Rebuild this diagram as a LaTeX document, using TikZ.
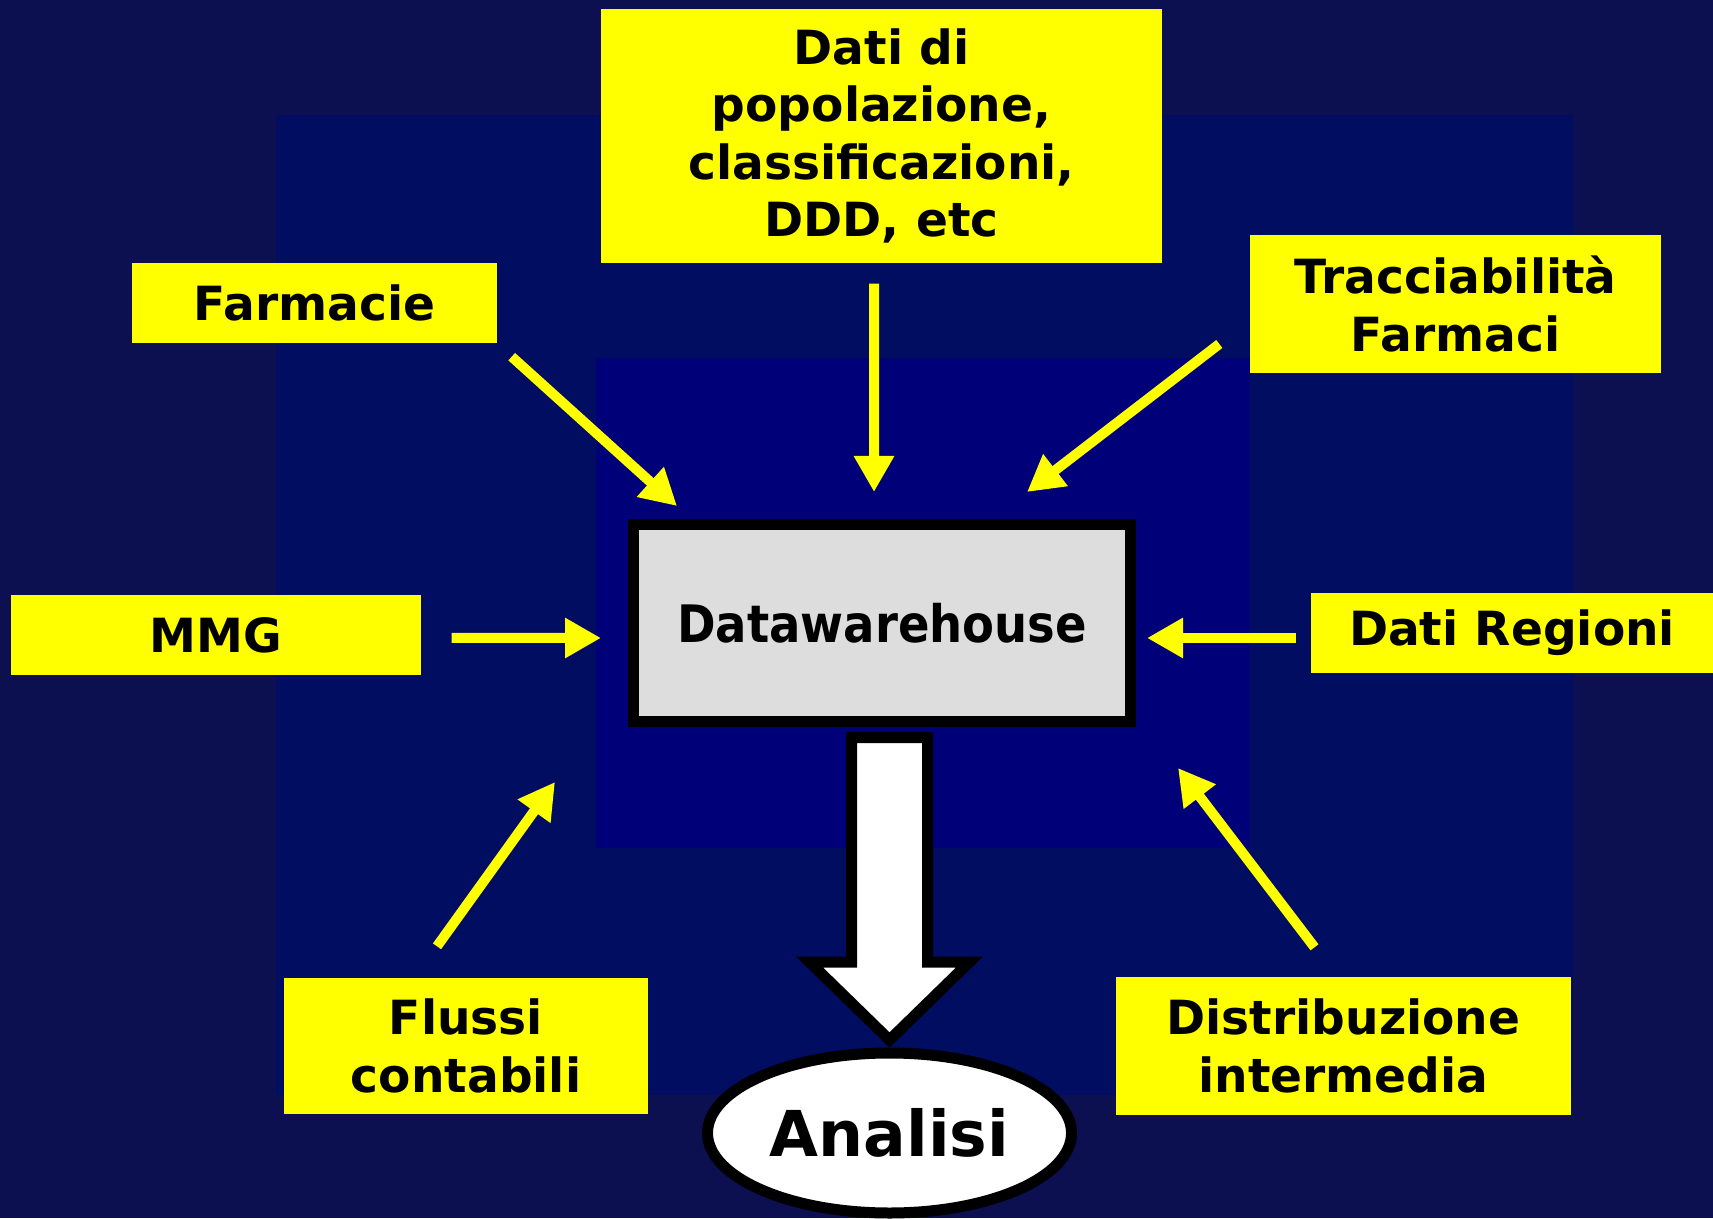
\documentclass[tikz,border=0pt]{standalone}
\usepackage{fontspec}
\setmainfont{DejaVu Sans}
\newfontfamily\dwfont[FakeStretch=0.9]{DejaVu Sans}
\usepackage{tikz}
\usetikzlibrary{shapes,arrows,arrows.meta,calc}
\definecolor{navyout}{RGB}{12,15,80}
\definecolor{navymid}{RGB}{1,13,96}
\definecolor{navyin}{RGB}{0,0,120}
\definecolor{boxyellow}{RGB}{255,255,0}
\definecolor{dwgray}{RGB}{221,221,221}

\begin{document}
\begin{tikzpicture}[
    source/.style={fill=boxyellow, inner sep=0pt, align=center, font=\fontsize{13.4}{16.3}\selectfont\bfseries},
    feed/.style={draw=boxyellow, line width=0.1cm, -{Triangle[length=0.36cm,width=0.38cm]}},
    bigarrow/.style={draw=black, fill=white, line width=0.11cm, line join=miter}
  ]
     \fill [navyout] (0,0) rectangle (17.13,12.18);
     \fill [navymid] (2.76,1.23) rectangle (15.73,11.03);
     \fill [navyin] (5.96,3.70) rectangle (12.50,8.60);
     \useasboundingbox (0,0) rectangle (17.13,12.18);

     \node [source, minimum width=5.61cm, minimum height=2.54cm] (dati) at (8.815,10.82) {Dati di\\popolazione,\\classificazioni,\\DDD, etc};
     \node [source, minimum width=3.65cm, minimum height=0.80cm] (farm) at (3.145,9.15) {Farmacie};
     \node [source, minimum width=4.11cm, minimum height=1.38cm] (trac) at (14.555,9.14) {Tracciabilità\\Farmaci};
     \node [source, minimum width=4.10cm, minimum height=0.80cm] (mmg) at (2.16,5.83) {MMG};
     \node [source, minimum width=4.02cm, minimum height=0.80cm] (reg) at (15.12,5.85) {Dati Regioni};
     \node [source, minimum width=3.64cm, minimum height=1.36cm] (flu) at (4.66,1.72) {Flussi\\contabili};
     \node [source, minimum width=4.55cm, minimum height=1.38cm] (dis) at (13.435,1.72) {Distribuzione\\intermedia};

     \node [draw=black, line width=0.11cm, fill=dwgray, minimum width=4.97cm, minimum height=1.97cm, inner sep=0pt, font=\dwfont\fontsize{14.7}{17}\selectfont\bfseries] (dw) at (8.82,5.95) {Datawarehouse};
     \node [ellipse, draw=black, line width=0.11cm, fill=white, minimum width=3.64cm, minimum height=1.60cm, inner sep=0pt, font=\fontsize{18}{20}\selectfont\bfseries] (ana) at (8.895,0.85) {Analisi};

     \draw [feed] ($(dati.south)+(-0.075,-0.2)$) -- ($(dw.north)+(-0.08,0.27)$);
     \draw [feed] ($(farm.south east)+(0.14,-0.13)$) -- ($(dw.north west)+(0.49,0.13)$);
     \draw [feed] ($(trac.west)+(-0.30,-0.40)$) -- ($(dw.north)+(1.45,0.27)$);
     \draw [feed] ($(mmg.east)+(0.30,-0.03)$) -- ($(dw.west)+(-0.27,-0.15)$);
     \draw [feed] ($(reg.west)+(-0.14,-0.05)$) -- ($(dw.east)+(0.11,-0.15)$);
     \draw [feed] ($(flu.north)+(-0.29,0.31)$) -- ($(dw.south west)+(-0.73,-0.55)$);
     \draw [feed] ($(dis.north)+(-0.29,0.29)$) -- ($(dw.south east)+(0.42,-0.41)$);

     \coordinate (st) at ($(dw.south)+(0,-0.105)$);
     \coordinate (tip) at ($(ana.north)+(0,0.075)$);
     \draw [bigarrow] let \p1=(st), \p2=(tip) in
       (\x2-0.38cm,\y1) -- (\x2-0.38cm,\y2+0.78cm) -- (\x2-0.80cm,\y2+0.78cm) -- (tip)
       -- (\x2+0.80cm,\y2+0.78cm) -- (\x2+0.38cm,\y2+0.78cm) -- (\x2+0.38cm,\y1) -- cycle;
 \end{tikzpicture}
\end{document}
